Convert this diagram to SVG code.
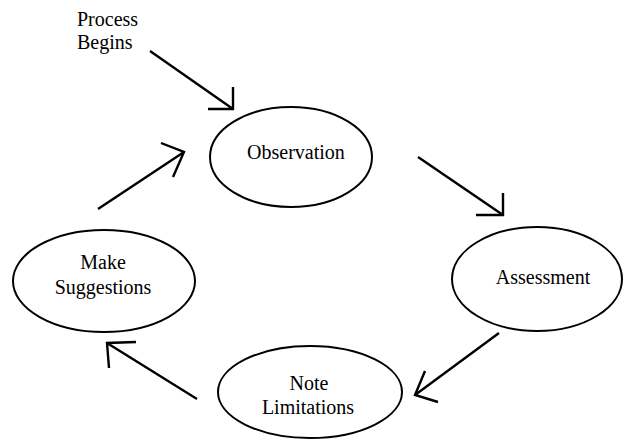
<svg xmlns="http://www.w3.org/2000/svg" width="626" height="446" viewBox="0 0 626 446" font-family="'Liberation Serif', 'DejaVu Serif', serif">
<style>
.node ellipse{fill:#fff;stroke:#000;stroke-width:2}
text{font-family:'Liberation Serif','DejaVu Serif',serif;font-size:20px;fill:#000}
.c{text-anchor:middle}
#connectors path{fill:none;stroke:#000;stroke-width:2.4;stroke-linecap:butt}
</style>
<rect width="626" height="446" fill="#fff"/>
<g id="start-label">
<text x="77" y="26">Process</text>
<text x="77" y="49">Begins</text>
</g>
<g id="observation" class="node">
<ellipse cx="291" cy="157" rx="81" ry="50"/>
<text class="c" x="296" y="159">Observation</text>
</g>
<g id="assessment" class="node">
<ellipse cx="537" cy="279" rx="85" ry="52"/>
<text class="c" x="543" y="284">Assessment</text>
</g>
<g id="note-limitations" class="node">
<ellipse cx="310" cy="392" rx="92" ry="46"/>
<text class="c" x="309" y="390">Note</text>
<text class="c" x="308" y="414">Limitations</text>
</g>
<g id="make-suggestions" class="node">
<ellipse cx="104" cy="281" rx="91" ry="51"/>
<text class="c" x="103" y="269">Make</text>
<text class="c" x="103" y="294">Suggestions</text>
</g>
<g id="connectors">
<path d="M150 51 L233 109 M233 87 L233 109 L208 109"/>
<path d="M418 157 L503 215 M503 193 L503 215 L476 215"/>
<path d="M499 333 L415 395 M425 371 L415 395 L438 402"/>
<path d="M197 399 L107 343 M136 342 L107 343 L109 368"/>
<path d="M98 209 L184 152 M161 143 L184 152 L173 177"/>
</g>
</svg>
